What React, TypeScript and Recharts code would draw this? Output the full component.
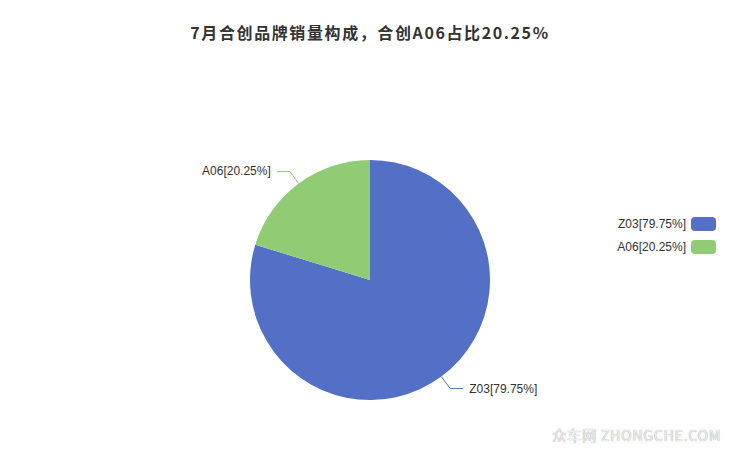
import { PieChart, Pie, Cell, Legend } from 'recharts';

const brands = ['Z03', 'A06'];
const shares = [79.75, 20.25];
const colors = ['#5470c6', '#91cc75'];

const data = brands.map((name, i) => ({ name, value: shares[i] }));

const RAD = Math.PI / 180;

function labelOf(name: string, value: number) {
  return `${name}[${value.toFixed(2)}%]`;
}

function renderLabel(props: any) {
  const { cx, cy, midAngle, outerRadius, name, value } = props;
  const cos = Math.cos(-midAngle * RAD);
  const sin = Math.sin(-midAngle * RAD);
  const x1 = cx + (outerRadius + 15) * cos;
  const y1 = cy + (outerRadius + 15) * sin;
  const right = cos >= 0;
  const x2 = x1 + (right ? 13 : -13);
  return (
    <text
      x={x2 + (right ? 6 : -6)}
      y={y1}
      textAnchor={right ? 'start' : 'end'}
      dominantBaseline="central"
      fontSize={12}
      fill="#333"
      fontFamily="'Liberation Sans', Arial, sans-serif"
    >
      {labelOf(name, value)}
    </text>
  );
}

function renderLabelLine(props: any) {
  const { cx, cy, midAngle, outerRadius, index } = props;
  const cos = Math.cos(-midAngle * RAD);
  const sin = Math.sin(-midAngle * RAD);
  const x0 = cx + outerRadius * cos;
  const y0 = cy + outerRadius * sin;
  const x1 = cx + (outerRadius + 15) * cos;
  const y1 = cy + (outerRadius + 15) * sin;
  const x2 = x1 + (cos >= 0 ? 13 : -13);
  return (
    <polyline
      key={`line-${index}`}
      points={`${x0},${y0} ${x1},${y1} ${x2},${y1}`}
      fill="none"
      stroke={colors[index % colors.length]}
      strokeWidth={1}
    />
  );
}

function LegendBox() {
  return (
    <div style={{ fontFamily: "'Liberation Sans', Arial, sans-serif", fontSize: 12, color: '#333' }}>
      {data.map((d, i) => (
        <div key={d.name} style={{ display: 'flex', alignItems: 'center', justifyContent: 'flex-end', height: 14, marginBottom: 9 }}>
          <span style={{ marginRight: 5 }}>{labelOf(d.name, d.value)}</span>
          <span style={{ display: 'inline-block', width: 25, height: 14, borderRadius: 4, background: colors[i] }} />
        </div>
      ))}
    </div>
  );
}

export default function App() {
  return (
    <div style={{ position: 'relative', width: 740, height: 455, margin: -8, background: '#fff' }}>
      <div
        style={{
          position: 'absolute',
          top: 21,
          left: 0,
          width: 740,
          textAlign: 'center',
          fontFamily: "'Noto Sans CJK SC', sans-serif",
          fontWeight: 'bold',
          fontSize: 16,
          letterSpacing: 1.6,
          color: '#333',
          lineHeight: '22px',
        }}
      >
        7月合创品牌销量构成，合创A06占比20.25%
      </div>
      <PieChart width={740} height={455}>
        <Pie
          data={data}
          dataKey="value"
          nameKey="name"
          cx={365}
          cy={275}
          outerRadius={120}
          startAngle={90}
          endAngle={-270}
          stroke="none"
          label={renderLabel}
          labelLine={renderLabelLine}
          isAnimationActive={false}
        >
          {data.map((d, i) => (
            <Cell key={d.name} fill={colors[i]} />
          ))}
        </Pie>
        <Legend
          layout="vertical"
          align="right"
          verticalAlign="top"
          wrapperStyle={{ top: 217, right: 24 }}
          content={() => <LegendBox />}
        />
      </PieChart>
      <div
        style={{
          position: 'absolute',
          right: 19,
          bottom: 10,
          fontFamily: "'Noto Sans CJK SC', sans-serif",
          fontSize: 14.5,
          color: '#eeeeee',
          textShadow: '0 0 1px #888',
          letterSpacing: 0.5,
        }}
      >
        众车网 ZHONGCHE.COM
      </div>
    </div>
  );
}
